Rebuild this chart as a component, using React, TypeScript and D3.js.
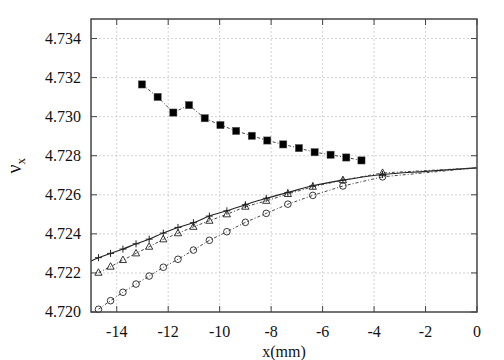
import React from "react";
import * as d3 from "d3";

const xTicks = [-14, -12, -10, -8, -6, -4, -2, 0];
const yTicks = [4.72, 4.722, 4.724, 4.726, 4.728, 4.73, 4.732, 4.734];

const sqX = [-13.02, -12.41, -11.8, -11.19, -10.58, -9.97, -9.36, -8.75, -8.15, -7.53, -6.92, -6.31, -5.69, -5.08, -4.49];
const sqY = [4.73165, 4.73101, 4.73021, 4.73059, 4.72992, 4.72957, 4.72927, 4.72902, 4.72878, 4.72858, 4.72839, 4.72818, 4.72805, 4.72791, 4.72776];

const ptX = [-14.71, -14.24, -13.76, -13.25, -12.74, -12.19, -11.62, -11.02, -10.4, -9.72, -9.0, -8.19, -7.35, -6.38, -5.21, -3.67];
const crossY = [4.72278, 4.723, 4.72322, 4.72349, 4.72373, 4.72404, 4.72433, 4.72457, 4.72491, 4.72518, 4.72549, 4.72582, 4.72612, 4.72646, 4.72675, 4.72704];
const triY = [4.72201, 4.72232, 4.72266, 4.723, 4.72334, 4.72372, 4.72403, 4.72436, 4.72467, 4.725, 4.72539, 4.72569, 4.72604, 4.72641, 4.72675, 4.72712];
const circY = [4.72014, 4.72058, 4.72101, 4.72143, 4.72184, 4.72229, 4.7227, 4.72317, 4.72367, 4.72411, 4.72459, 4.72505, 4.72552, 4.72597, 4.72645, 4.72692];

const solidX = [-15, ...ptX, -2, 0];
const solidY = [4.72261, ...crossY, 4.7272, 4.72738];
const endX = 0;
const endY = 4.72738;

const W = 504, H = 360;
const L = 91, R = 477, T = 19, B = 312;
const FONT = "'Liberation Serif', 'Times New Roman', 'DejaVu Serif', serif";

export default function App() {
  const x = d3.scaleLinear().domain([-15, 0]).range([L, R]);
  const y = d3.scaleLinear().domain([4.72, 4.735]).range([B, T]);
  const line = d3.line<[number, number]>().x(d => x(d[0])).y(d => y(d[1]));
  const curve = d3.line<[number, number]>().x(d => x(d[0])).y(d => y(d[1])).curve(d3.curveMonotoneX);
  const sq: [number, number][] = sqX.map((v, i) => [v, sqY[i]]);
  const cr: [number, number][] = ptX.map((v, i) => [v, crossY[i]]);
  const tr: [number, number][] = ptX.map((v, i) => [v, triY[i]]);
  const ci: [number, number][] = ptX.map((v, i) => [v, circY[i]]);
  const solid: [number, number][] = solidX.map((v, i) => [v, solidY[i]]);
  const dash = "3,2,1,2";
  const ts = { fontFamily: FONT };
  return (
    <svg width={W} height={H} style={{ position: "absolute", left: 0, top: 0, background: "#fff" }}>
      <rect x={0} y={0} width={W} height={H} fill="#fff" />
      {/* grid */}
      {xTicks.filter(t => t > -15 && t < 0).map(t => (
        <line key={"gx" + t} x1={x(t)} x2={x(t)} y1={T} y2={B} stroke="#c8c8c8" strokeWidth={0.8} strokeDasharray="2,2" />
      ))}
      {yTicks.filter(t => t > 4.7201).map(t => (
        <line key={"gy" + t} x1={L} x2={R} y1={y(t)} y2={y(t)} stroke="#c8c8c8" strokeWidth={0.8} strokeDasharray="2,2" />
      ))}
      {/* ticks */}
      {xTicks.map(t => (
        <g key={"tx" + t}>
          <line x1={x(t)} x2={x(t)} y1={B} y2={B - 6} stroke="#444" strokeWidth={1} />
          <line x1={x(t)} x2={x(t)} y1={T} y2={T + 6} stroke="#444" strokeWidth={1} />
          <text x={x(t)} y={337} textAnchor="middle" fontSize={16} fill="#111" style={ts}>{t === 0 ? "0" : String(t)}</text>
        </g>
      ))}
      {yTicks.map(t => (
        <g key={"ty" + t}>
          <line x1={L} x2={L + 6} y1={y(t)} y2={y(t)} stroke="#444" strokeWidth={1} />
          <line x1={R} x2={R - 6} y1={y(t)} y2={y(t)} stroke="#444" strokeWidth={1} />
          <text x={81} y={y(t) + 5.3} textAnchor="end" fontSize={16} fill="#111" style={ts}>{t.toFixed(3)}</text>
        </g>
      ))}
      {/* series lines */}
      <path d={line(sq) || ""} fill="none" stroke="#333" strokeWidth={0.9} strokeDasharray={dash} />
      <path d={curve(solid) || ""} fill="none" stroke="#222" strokeWidth={1.1} />
      <path d={line([...tr, [endX, endY]]) || ""} fill="none" stroke="#333" strokeWidth={0.9} strokeDasharray={dash} />
      <path d={line([...ci, [endX, endY]]) || ""} fill="none" stroke="#333" strokeWidth={0.9} strokeDasharray={dash} />
      {/* markers */}
      {sq.map((d, i) => (
        <rect key={"s" + i} x={x(d[0]) - 3.6} y={y(d[1]) - 3.6} width={7.2} height={7.2} fill="#000" stroke="#555" strokeWidth={0.5} />
      ))}
      {cr.map((d, i) => (
        <path key={"c" + i} d={`M${x(d[0]) - 3.5},${y(d[1])}h7M${x(d[0])},${y(d[1]) - 3.5}v7`} stroke="#222" strokeWidth={1} fill="none" />
      ))}
      {tr.map((d, i) => {
        const cx = x(d[0]), cy = y(d[1]);
        return <path key={"t" + i} d={`M${cx},${cy - 4}L${cx + 3.6},${cy + 2.5}L${cx - 3.6},${cy + 2.5}Z`} fill="none" stroke="#222" strokeWidth={0.9} />;
      })}
      {ci.map((d, i) => (
        <circle key={"o" + i} cx={x(d[0])} cy={y(d[1])} r={3.3} fill="none" stroke="#222" strokeWidth={0.9} />
      ))}
      {/* frame */}
      <rect x={L} y={T} width={R - L} height={B - T} fill="none" stroke="#444" strokeWidth={1.5} />
      {/* labels */}
      <text x={284} y={357} textAnchor="middle" fontSize={16} fill="#111" style={ts}>x(mm)</text>
      <text transform="translate(21,173.5) rotate(-90)" fontSize={20} fill="#111" style={ts}>
        ν<tspan dy={4} fontSize={13}>x</tspan>
      </text>
    </svg>
  );
}
